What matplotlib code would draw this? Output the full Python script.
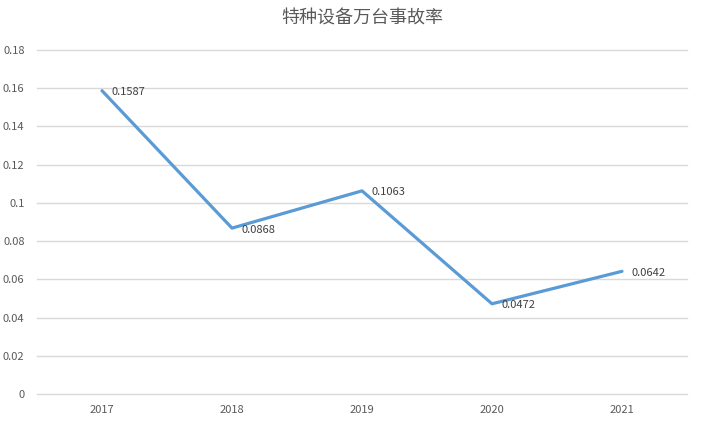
import matplotlib.pyplot as plt

plt.rcParams['font.family'] = ['Noto Sans CJK SC', 'DejaVu Sans']

years = ["2017", "2018", "2019", "2020", "2021"]
rates = [0.1587, 0.0868, 0.1063, 0.0472, 0.0642]
y_ticks = [0, 0.02, 0.04, 0.06, 0.08, 0.1, 0.12, 0.14, 0.16, 0.18]
y_labels = ["0", "0.02", "0.04", "0.06", "0.08", "0.1", "0.12", "0.14", "0.16", "0.18"]

fig = plt.figure(figsize=(7.03, 4.25), dpi=100)
ax = fig.add_axes([37 / 703, (425 - 394) / 425, (687 - 37) / 703, (394 - 50) / 425])

x = list(range(len(years)))
ax.plot(x, rates, color="#5B9BD5", linewidth=2.3, solid_capstyle="round", zorder=3)
for xi, v in zip(x, rates):
    ax.annotate(f"{v:.4f}", (xi, v), xytext=(7, -1), textcoords="offset points",
                ha="left", va="center", fontsize=8, color="#404040")

ax.set_xlim(-0.5, len(years) - 0.5)
ax.set_ylim(0, 0.18)
ax.set_xticks(x)
ax.set_xticklabels(years)
ax.set_yticks(y_ticks)
ax.set_yticklabels(y_labels)
ax.tick_params(axis="both", length=0, labelsize=8, colors="#595959")
ax.tick_params(axis="x", pad=8)
ax.tick_params(axis="y", pad=9)
ax.grid(axis="y", color="#D9D9D9", linewidth=1)
for gl in ax.get_ygridlines():
    gl.set_clip_on(False)
ax.set_axisbelow(True)
for s in ax.spines.values():
    s.set_visible(False)

fig.text(362 / 703, 1 - 19 / 425, "特种设备万台事故率", ha="center", va="center",
         fontsize=13, color="#595959", fontweight="light")

fig.savefig("out.png", dpi=100)
